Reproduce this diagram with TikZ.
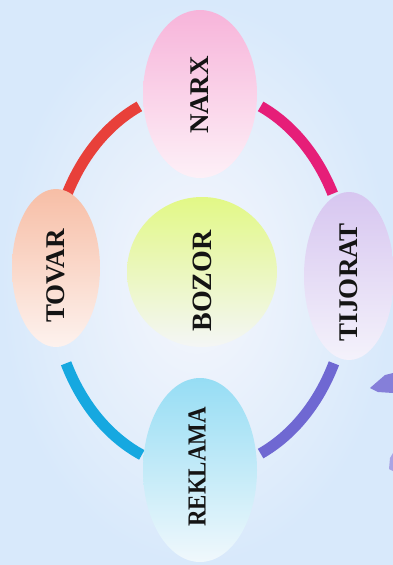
\documentclass[tikz,border=0pt]{standalone}
\usepackage{fontspec}
\setmainfont{Liberation Serif}
\usetikzlibrary{shapes.geometric}
\definecolor{bgout}{HTML}{D8E9FB}
\definecolor{bgin}{HTML}{F6F7FC}
\definecolor{arcred}{HTML}{E8403A}
\definecolor{arcpink}{HTML}{E61E78}
\definecolor{arcpurple}{HTML}{6F68D2}
\definecolor{arccyan}{HTML}{16A8E0}
\definecolor{narxT}{HTML}{F7B4DA}
\definecolor{narxB}{HTML}{FDF0F7}
\definecolor{tovarT}{HTML}{F7BEA6}
\definecolor{tovarB}{HTML}{FDF2EE}
\definecolor{bozorT}{HTML}{E2F886}
\definecolor{bozorB}{HTML}{F4F6F6}
\definecolor{tijT}{HTML}{D7C6F0}
\definecolor{tijB}{HTML}{F4F2FB}
\definecolor{rekT}{HTML}{96DDF4}
\definecolor{rekB}{HTML}{F0F8FC}
\begin{document}
\begin{tikzpicture}[x=1pt,y=-1pt,
  bub/.style={ellipse, inner sep=0pt, draw=none},
  lbl/.style={font=\fontsize{27}{30}\selectfont\bfseries, rotate=90, inner sep=0pt, text=black!92},
  ring/.style={line width=11pt, line cap=butt}]
\useasboundingbox (0,0) rectangle (393,565);
\shade[inner color=bgin, outer color=bgout] (0,0) rectangle (393,565);
% ring arcs
\coordinate (r1) at (67.2,193.7);
\coordinate (p1) at (260.6,106.4);
\coordinate (c1) at (141.8,454.9);
\coordinate (u1) at (333.9,363.3);
\draw[ring, arcred] (r1) arc[start angle=207, end angle=246, x radius=149, y radius=190];
\draw[ring, arcpink] (p1) arc[start angle=294, end angle=333, x radius=149, y radius=190];
\draw[ring, arccyan] (c1) arc[start angle=113, end angle=154, x radius=149, y radius=190];
\draw[ring, arcpurple] (u1) arc[start angle=26, end angle=66, x radius=149, y radius=190];
% fragments at the right edge
\fill[arcpurple!85!white] (370,388) -- (385,375) -- (393,373) -- (393,393) -- (378,392) -- cycle;
\fill[arcpurple!60!white] (389,469) -- (390,458) -- (393,453) -- (393,471) -- cycle;
% bubbles
\node[bub, minimum width=114pt, minimum height=168pt, top color=narxT, bottom color=narxB] (narx) at (200,94) {};
\node[bub, minimum width=88pt, minimum height=158pt, top color=tovarT, bottom color=tovarB] (tovar) at (56,268) {};
\node[bub, minimum width=90pt, minimum height=168pt, top color=tijT, bottom color=tijB] (tijorat) at (349,276) {};
\node[bub, minimum width=114pt, minimum height=184pt, top color=rekT, bottom color=rekB] (reklama) at (200,470) {};
\node[circle, inner sep=0pt, minimum size=150pt, top color=bozorT, bottom color=bozorB] (bozor) at (202,272) {};
% labels
\node[lbl] (tnarx) at (200,95) {NARX};
\node[lbl] (ttovar) at (56,276) {TOVAR};
\node[lbl, font=\fontsize{28}{30}\selectfont\bfseries] (tbozor) at (202,281) {BOZOR};
\node[lbl] (ttijorat) at (349,282) {TIJORAT};
\node[lbl, font=\fontsize{26}{30}\selectfont\bfseries] (treklama) at (197,467) {\scalebox{0.88}[1]{REKLAMA}};
\end{tikzpicture}
\end{document}
